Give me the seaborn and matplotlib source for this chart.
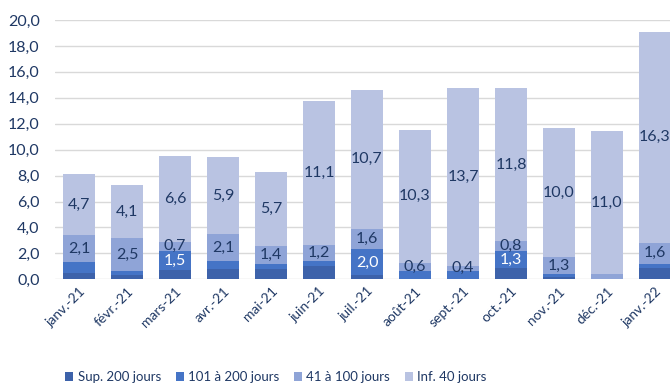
import matplotlib
matplotlib.use("Agg")
import matplotlib.pyplot as plt
import seaborn as sns
import pandas as pd
import numpy as np
from matplotlib.patches import Patch

months = ["janv.-21", "févr.-21", "mars-21", "avr.-21", "mai-21", "juin-21", "juil.-21",
          "août-21", "sept.-21", "oct.-21", "nov.-21", "déc.-21", "janv.-22"]
sup200 = [0.5, 0.3, 0.7, 0.8, 0.8, 1.0, 0.3, 0.05, 0.05, 0.85, 0.15, 0.0, 0.85]
d101_200 = [0.8, 0.35, 1.5, 0.6, 0.4, 0.45, 2.0, 0.6, 0.6, 1.3, 0.25, 0.0, 0.35]
d41_100 = [2.1, 2.5, 0.7, 2.1, 1.4, 1.2, 1.6, 0.6, 0.4, 0.8, 1.3, 0.4, 1.6]
inf40 = [4.7, 4.1, 6.6, 5.9, 5.7, 11.1, 10.7, 10.3, 13.7, 11.8, 10.0, 11.0, 16.3]
series_names = ["Sup. 200 jours", "101 à 200 jours", "41 à 100 jours", "Inf. 40 jours"]
# which segments carry a data label
show_101 = [False, False, True, False, False, False, True, False, False, True, False, False, False]
show_41 = [True, True, True, True, True, True, True, True, True, True, True, False, True]
show_inf = [True] * 13

colors = ["#3D62AA", "#4574C6", "#8FA4D7", "#B9C3E2"]
text_col = "#1F3864"

sns.set_theme(style="white")
plt.rcParams['font.family'] = ['Lato', 'DejaVu Sans']

df = pd.DataFrame({"mois": months, series_names[0]: sup200, series_names[1]: d101_200,
                   series_names[2]: d41_100, series_names[3]: inf40})
cum = df[series_names].cumsum(axis=1)

fig = plt.figure(figsize=(6.7, 3.83), dpi=100)
ax = fig.add_axes([55/670, (383-279.3)/383, 624/670, (279.3-20)/383])

# stacked bars: draw cumulative totals from the top series downwards
for i in reversed(range(len(series_names))):
    sns.barplot(x=df["mois"], y=cum[series_names[i]], ax=ax, color=colors[i],
                width=0.66, saturation=1, order=months, zorder=3, edgecolor="none",
                linewidth=0)

shows = [None, show_101, show_41, show_inf]
xpos = np.arange(len(months))
for i, name in enumerate(series_names):
    sh = shows[i]
    if sh is None:
        continue
    vals = df[name].to_numpy()
    tops = cum[name].to_numpy()
    for j, v in enumerate(vals):
        if sh[j]:
            c = "white" if i == 1 else text_col
            ax.text(xpos[j], tops[j] - v / 2, f"{v:.1f}".replace(".", ","), ha="center",
                    va="center", fontsize=11.5, color=c, zorder=5)

ax.set_xlim(-0.5, 12.5)
ax.set_ylim(0, 20)
yt = np.arange(0, 21, 2)
ax.set_yticks(yt)
ax.set_yticklabels([f"{v:.1f}".replace(".", ",") for v in yt], fontsize=11.5, color=text_col)
ax.set_xticks(xpos)
ax.set_xticklabels(months, rotation=45, ha="right", rotation_mode="anchor",
                   fontsize=10, color=text_col)
ax.tick_params(axis="both", length=0, pad=4)
ax.tick_params(axis="y", pad=11)
ax.grid(axis="y", color="#D9D9D9", linewidth=1, zorder=0)
ax.set_axisbelow(True)
for s in ax.spines.values():
    s.set_visible(False)
ax.set_xlabel("")
ax.set_ylabel("")

handles = [Patch(facecolor=c, edgecolor="none") for c in colors]
fig.legend(handles, series_names, loc="center", bbox_to_anchor=(276/670, 1 - 377/383),
           ncol=4, frameon=False, fontsize=9.5, handlelength=0.6, handleheight=0.6,
           handletextpad=0.35, columnspacing=1.1, labelcolor=text_col)

fig.savefig("out.png", dpi=100)
